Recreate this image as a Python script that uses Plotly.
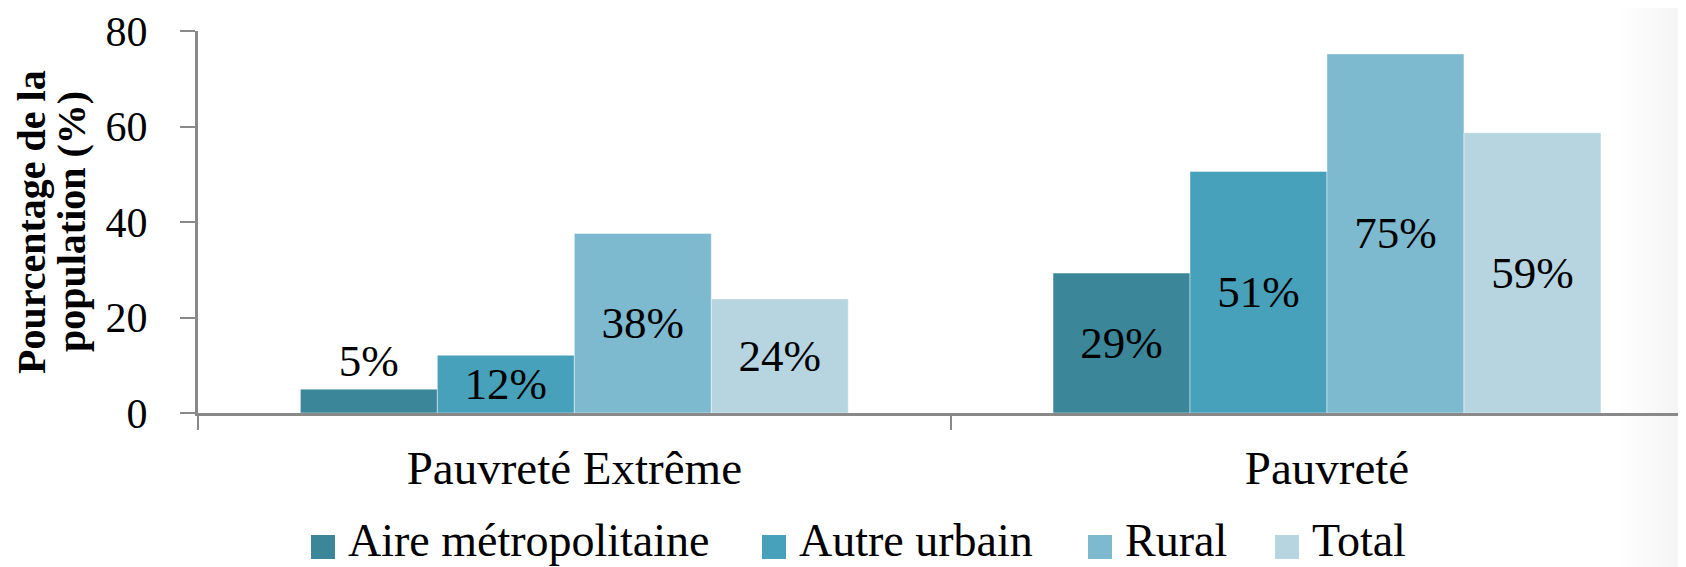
import plotly.graph_objects as go

categories = ["Pauvreté Extrême", "Pauvreté"]
series_names = ["Aire métropolitaine", "Autre urbain", "Rural", "Total"]
aire_metro = [5.0, 29.3]
autre_urbain = [12.1, 50.6]
rural = [37.6, 75.2]
total = [23.9, 58.7]
y_ticks = [0, 20, 40, 60, 80]

colors = ["#3B8699", "#48A1BA", "#7DB9CF", "#B6D5E1"]
series_values = [aire_metro, autre_urbain, rural, total]

# the page body adds an 8px margin, so the figure is shrunk by that much
OFF = 8
W, H = 1686 - OFF, 567 - OFF
L, T = 198 - OFF, 31 - OFF
B = H - (413 - OFF)
plot_w = W - L
plot_h = H - T - B

def px_x(px):
    # page pixel -> paper coordinate
    return (px - OFF - L) / plot_w

def px_y(py):
    return (H - B - (py - OFF)) / plot_h

FONT = "Liberation Serif, Times New Roman, serif"

fig = go.Figure()
for name, vals, col in zip(series_names, series_values, colors):
    pos = ["outside" if v < 8 else "inside" for v in vals]
    fig.add_trace(go.Bar(
        x=categories, y=vals, name=name,
        marker=dict(color=col, line=dict(color="rgba(255,255,255,0.45)", width=1)),
        text=[f"{v:.0f}%" for v in vals],
        textposition=pos,
        insidetextanchor="middle",
        constraintext="none",
        cliponaxis=False,
        textfont=dict(family=FONT, size=45, color="black"),
        showlegend=False,
    ))

# faint shading at right edge (slide background)
shapes = []
for i in range(10):
    shapes.append(dict(type="rect", xref="paper", yref="paper", layer="below",
                       x0=px_x(1620 + i * 6), x1=px_x(1700), y0=px_y(580), y1=px_y(0),
                       fillcolor="rgba(0,0,0,0.004)", line=dict(width=0)))

# manual legend (large swatches)
legend_swatch_x = [311, 762, 1088, 1275]
annotations = []
for name, col, sx in zip(series_names, colors, legend_swatch_x):
    shapes.append(dict(type="rect", xref="paper", yref="paper",
                       x0=px_x(sx), x1=px_x(sx + 24), y0=px_y(559), y1=px_y(535),
                       fillcolor=col, line=dict(width=0)))
    annotations.append(dict(text=name, xref="paper", yref="paper",
                            x=px_x(sx + 35), y=px_y(540), xanchor="left", yanchor="middle",
                            showarrow=False, font=dict(family=FONT, size=46, color="black")))

# y-axis title, two lines placed separately for tighter line spacing
for line, cx in [("Pourcentage de la", 31), ("population (%)", 71)]:
    annotations.append(dict(text=line, xref="paper", yref="paper",
                            x=px_x(cx), y=px_y(222), xanchor="center", yanchor="middle",
                            textangle=-90, showarrow=False, borderpad=0,
                            font=dict(family=FONT, size=40, color="black", weight="bold")))

fig.update_layout(
    width=W, height=H,
    margin=dict(l=L, r=0, t=T, b=B, pad=0),
    paper_bgcolor="white", plot_bgcolor="rgba(0,0,0,0)",
    barmode="group", bargap=0.272, bargroupgap=0,
    font=dict(family=FONT, color="black"),
    shapes=shapes, annotations=annotations,
)
fig.update_xaxes(
    type="category", range=[-0.5, 1.477],
    showline=True, linecolor="#898989", linewidth=3,
    ticks="outside", tickson="boundaries", ticklen=14, tickwidth=2, tickcolor="#898989",
    tickfont=dict(family=FONT, size=47, color="black"),
    ticklabelstandoff=12, showgrid=False, zeroline=False,
)
fig.update_yaxes(
    range=[0, 80], tickvals=y_ticks,
    showline=True, linecolor="#898989", linewidth=3,
    ticks="outside", ticklen=15, tickwidth=2, tickcolor="#898989",
    tickfont=dict(family=FONT, size=42, color="black"),
    ticklabelstandoff=24, showgrid=False, zeroline=False,
)

fig.write_html("out.html")
